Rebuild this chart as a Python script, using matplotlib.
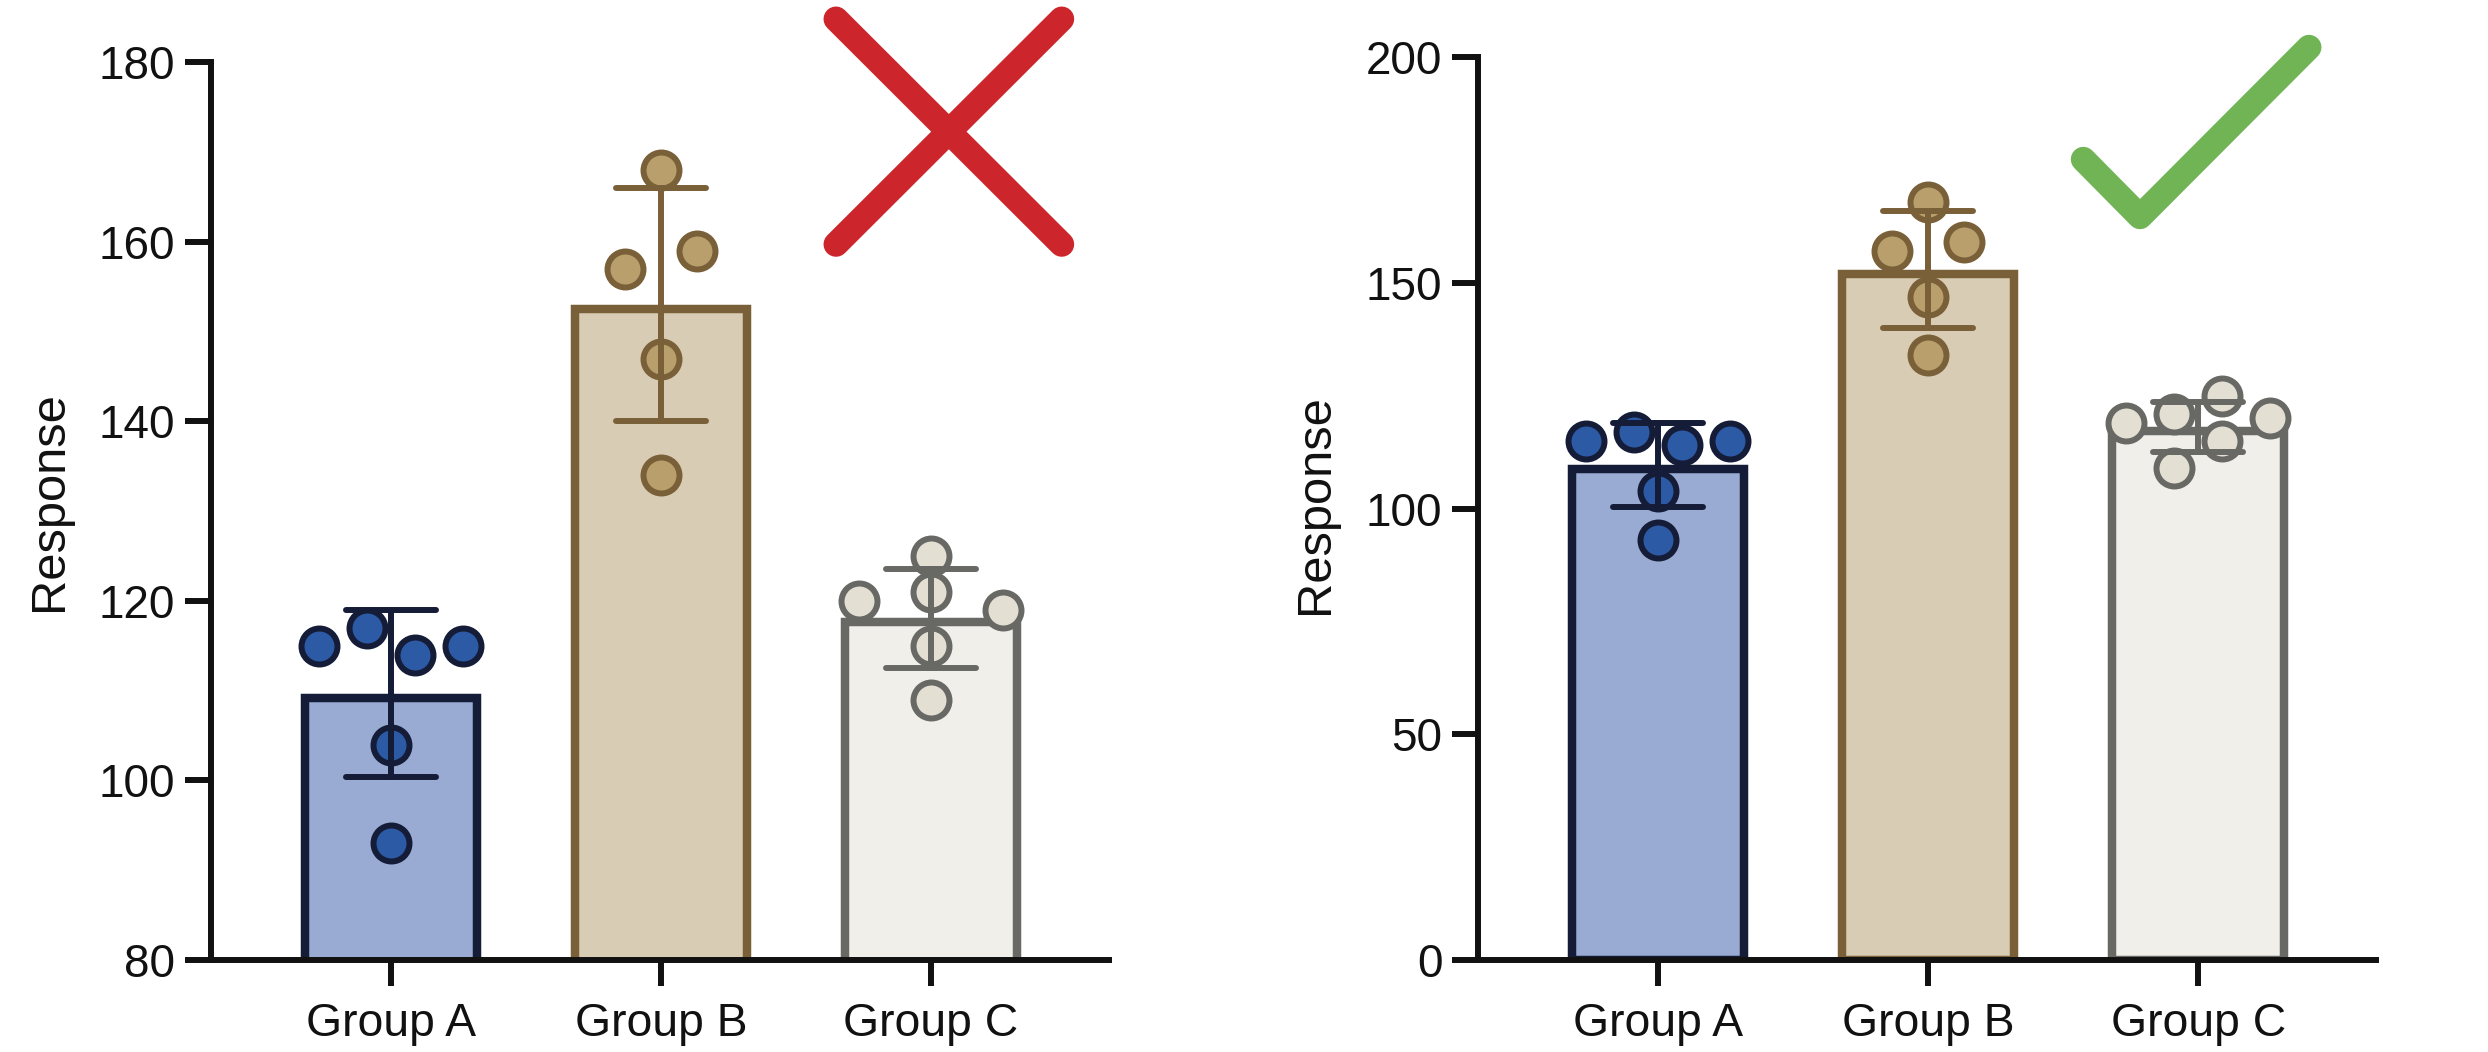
import matplotlib
matplotlib.use("Agg")
import matplotlib.pyplot as plt
from matplotlib.lines import Line2D

plt.rcParams['font.family'] = ['Liberation Sans', 'DejaVu Sans']

W, H = 2488, 1052

groups = ["Group A", "Group B", "Group C"]
means = [109.67, 153, 118.17]
err_low = [100.4, 140, 112.55]
err_high = [119, 166, 123.6]

group_a = [115, 117, 114, 115, 104, 93]
group_b = [168, 157, 159, 147, 134]
group_c_left = [120, 125, 121, 119, 115, 109]
group_c_right = [119, 121, 125, 120, 115, 109]

# horizontal jitter of the dots
jitter_a = [-0.268, -0.09, 0.088, 0.267, 0, 0]
jitter_b = [0, -0.133, 0.133, 0, 0]
jitter_c_left = [-0.268, 0, 0, 0.267, 0, 0]
jitter_c_right = [-0.266, -0.089, 0.089, 0.267, 0.089, -0.089]

left_ticks = [80, 100, 120, 140, 160, 180]
right_ticks = [0, 50, 100, 150, 200]

fills = ["#99abd2", "#d9ccb4", "#f0efea"]
edges = ["#141c38", "#7a6038", "#686864"]
dots = ["#2c5aa5", "#b99f6c", "#e3dfd3"]
ink = "#111111"


def px_axes(fig, x0, x1, y_top, y_bottom):
    return fig.add_axes([x0 / W, 1 - y_bottom / H, (x1 - x0) / W, (y_bottom - y_top) / H])


def draw_panel(ax, ylim, ticks, values, jitters):
    # the bar outline sits inside the bar, so pull the drawn top down by half a stroke
    half_stroke = 4.25 * (ylim[1] - ylim[0]) / (ax.get_position().height * H)
    for i in range(3):
        ax.bar(i, means[i] - half_stroke, width=0.635, color=fills[i], edgecolor=edges[i], linewidth=6.1, zorder=2)
        xs = [i + j for j in jitters[i]]
        ax.plot(xs, values[i], 'o', ms=25.9, mfc=dots[i], mec=edges[i], mew=4.3, clip_on=False, zorder=3)
        ax.plot([i, i], [err_low[i], err_high[i]], color=edges[i], lw=4.3, clip_on=False, zorder=4)
        for y in [err_low[i], err_high[i]]:
            ax.plot([i - 0.167, i + 0.167], [y, y], color=edges[i], lw=4.3, solid_capstyle='round',
                    clip_on=False, zorder=4)

    ax.set_xlim(-0.6685, 2.659)
    ax.set_ylim(*ylim)
    ax.set_xticks([0, 1, 2])
    ax.set_xticklabels(groups)
    ax.set_yticks(ticks)
    ax.tick_params(axis='x', length=18.7, width=4.3, labelsize=33.3, pad=11.5, color=ink, labelcolor=ink)
    ax.tick_params(axis='y', length=18.4, width=4.3, labelsize=33, pad=7, color=ink, labelcolor=ink)
    ax.spines['top'].set_visible(False)
    ax.spines['right'].set_visible(False)
    ax.spines['left'].set_linewidth(4.3)
    ax.spines['bottom'].set_linewidth(4.3)
    ax.spines['left'].set_color(ink)
    ax.spines['bottom'].set_color(ink)
    ax.spines['left'].set_zorder(6)
    ax.spines['bottom'].set_zorder(6)


def px_line(fig, xs, ys, color):
    fig.add_artist(Line2D([x / W for x in xs], [1 - y / H for y in ys], color=color, lw=18,
                          solid_capstyle='round', solid_joinstyle='round'))


fig = plt.figure(figsize=(W / 100, H / 100), dpi=100)

ax1 = px_axes(fig, 210.5, 1109, 62.3, 960)
draw_panel(ax1, (80, 180), left_ticks, [group_a, group_b, group_c_left], [jitter_a, jitter_b, jitter_c_left])

ax2 = px_axes(fig, 1477.7, 2376, 57.3, 960)
draw_panel(ax2, (0, 200), right_ticks, [group_a, group_b, group_c_right], [jitter_a, jitter_b, jitter_c_right])

for x, y in [(62, 501), (1328.5, 504)]:
    fig.text(x / W, 1 - y / H, "Response", rotation=90, rotation_mode='anchor', ha='center', va='baseline',
             fontsize=35.2, color=ink)

# red cross and green check
px_line(fig, [836, 1061.7], [19, 244.3], "#cc262c")
px_line(fig, [836, 1061.7], [244.3, 19], "#cc262c")
px_line(fig, [2083.3, 2140, 2309], [159.3, 216.7, 47.3], "#70b455")

fig.savefig("out.png", dpi=100)
plt.close(fig)
